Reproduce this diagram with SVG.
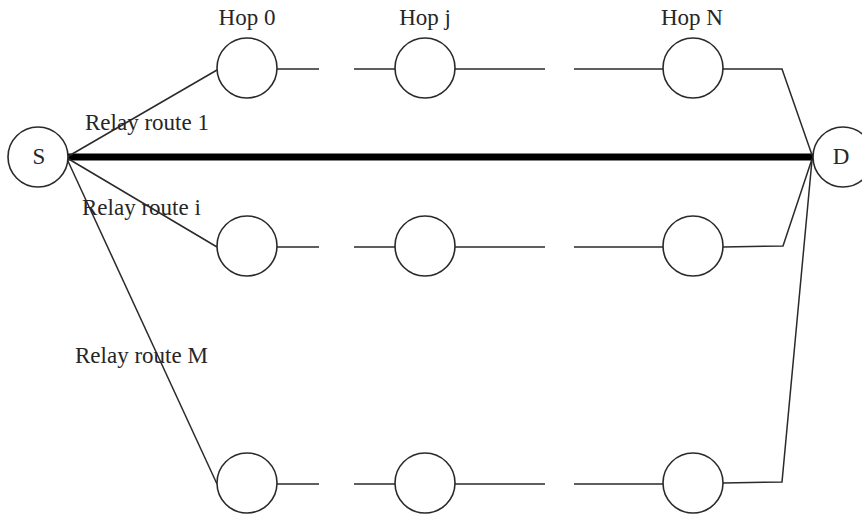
<svg xmlns="http://www.w3.org/2000/svg" width="862" height="517" viewBox="0 0 862 517">
  <style>
    .node { fill: #ffffff; stroke: #2a2a2a; stroke-width: 1.6; }
    .wire { fill: none; stroke: #2a2a2a; stroke-width: 1.5; stroke-linejoin: miter; }
    .trunk { fill: none; stroke: #000000; stroke-width: 7; stroke-linecap: round; }
    .label { font-family: "Liberation Serif", "Times New Roman", serif; font-size: 23px; fill: #262626; }
    .mid { text-anchor: middle; }
  </style>
  <rect width="862" height="517" fill="#ffffff"/>

  <!-- connectors -->
  <g id="connectors">
    <!-- direct S-D link -->
    <line class="trunk" x1="67" y1="157" x2="812" y2="157"/>
    <!-- relay route 1 (top) -->
    <polyline class="wire" points="67,157 217,70"/>
    <line class="wire" x1="277" y1="69" x2="319" y2="69"/>
    <line class="wire" x1="354" y1="69" x2="395" y2="69"/>
    <line class="wire" x1="455" y1="69" x2="545" y2="69"/>
    <line class="wire" x1="574" y1="69" x2="663" y2="69"/>
    <polyline class="wire" points="723,69 782,69 812,155"/>
    <!-- relay route i (middle) -->
    <polyline class="wire" points="67,158 217,247"/>
    <line class="wire" x1="277" y1="247" x2="319" y2="247"/>
    <line class="wire" x1="354" y1="247" x2="395" y2="247"/>
    <line class="wire" x1="455" y1="247" x2="545" y2="247"/>
    <line class="wire" x1="574" y1="247" x2="663" y2="247"/>
    <polyline class="wire" points="723,247 783,246 812,159"/>
    <!-- relay route M (bottom) -->
    <polyline class="wire" points="67,159 217,484"/>
    <line class="wire" x1="277" y1="484" x2="319" y2="484"/>
    <line class="wire" x1="354" y1="484" x2="395" y2="484"/>
    <line class="wire" x1="455" y1="484" x2="545" y2="484"/>
    <line class="wire" x1="574" y1="484" x2="663" y2="484"/>
    <polyline class="wire" points="723,483 782,482 812,160"/>
  </g>

  <!-- source and destination -->
  <g id="node-S">
    <circle class="node" cx="38" cy="157" r="30"/>
    <text class="label mid" x="39" y="164" font-size="21">S</text>
  </g>
  <g id="node-D">
    <circle class="node" cx="843" cy="157" r="30"/>
    <text class="label mid" x="841" y="164" font-size="21">D</text>
  </g>

  <!-- relay route 1 hops -->
  <g id="r1-hop0"><circle class="node" cx="247" cy="68" r="30"/></g>
  <g id="r1-hopj"><circle class="node" cx="425" cy="68" r="30"/></g>
  <g id="r1-hopN"><circle class="node" cx="693" cy="68" r="30"/></g>

  <!-- relay route i hops -->
  <g id="ri-hop0"><circle class="node" cx="247" cy="246" r="30"/></g>
  <g id="ri-hopj"><circle class="node" cx="425" cy="246" r="30"/></g>
  <g id="ri-hopN"><circle class="node" cx="693" cy="246" r="30"/></g>

  <!-- relay route M hops -->
  <g id="rM-hop0"><circle class="node" cx="247" cy="483" r="30"/></g>
  <g id="rM-hopj"><circle class="node" cx="425" cy="483" r="30"/></g>
  <g id="rM-hopN"><circle class="node" cx="693" cy="483" r="30"/></g>

  <!-- labels -->
  <g id="labels">
    <text class="label mid" x="247" y="25">Hop 0</text>
    <text class="label mid" x="425" y="25">Hop j</text>
    <text class="label mid" x="692" y="25">Hop N</text>
    <text class="label" x="85" y="130">Relay route 1</text>
    <text class="label" x="82" y="215">Relay route i</text>
    <text class="label" x="75" y="363">Relay route M</text>
  </g>
</svg>
